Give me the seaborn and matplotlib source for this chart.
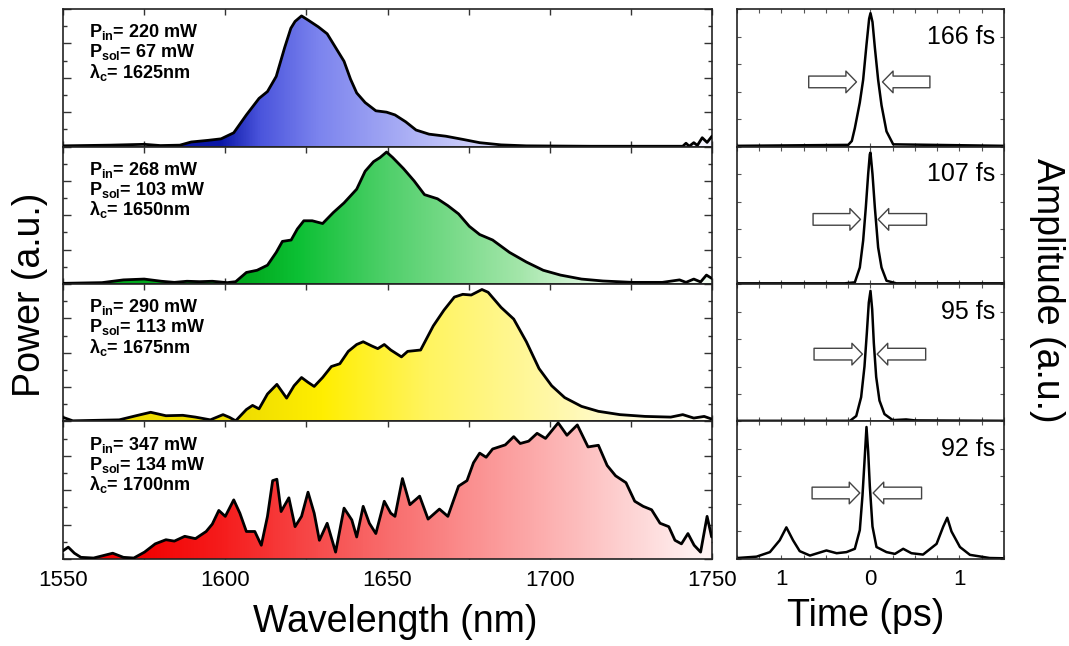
import numpy as np
import matplotlib
matplotlib.use("Agg")
import matplotlib.pyplot as plt
import seaborn as sns
from matplotlib.colors import LinearSegmentedColormap, Normalize
from matplotlib.ticker import MultipleLocator, FixedLocator

# ---- spectra (wavelength nm, normalised power) ----
wl_1625 = [1550, 1564.6, 1575, 1580, 1586, 1589.5, 1594.7, 1598.7, 1602.6, 1606.5,
           1610.4, 1613, 1615.7, 1618.3, 1620.2, 1621.5, 1623.5, 1625.5, 1628.7, 1631.4,
           1634, 1636.6, 1638.6, 1640.5, 1643.1, 1646.4, 1649.7, 1652.3, 1655.6, 1658.8,
           1662.8, 1668, 1673.2, 1678.4, 1685, 1692.8, 1712.5, 1741, 1742, 1743,
           1744.4, 1745.5, 1747, 1748.5, 1750]
pw_1625 = [0.005, 0.01, 0.016, 0.007, 0.01, 0.033, 0.045, 0.056, 0.10, 0.23,
           0.35, 0.40, 0.51, 0.72, 0.86, 0.91, 0.95, 0.92, 0.87, 0.82,
           0.72, 0.62, 0.49, 0.39, 0.32, 0.26, 0.25, 0.23, 0.18, 0.12,
           0.09, 0.075, 0.052, 0.028, 0.012, 0.005, 0.002, 0.002, 0.024, 0.002,
           0.028, 0.008, 0.064, 0.03, 0.075]

wl_1650 = [1550, 1562, 1568.6, 1575, 1580.3, 1584.3, 1588.2, 1592.1, 1596, 1600.6,
           1603.2, 1606.5, 1609.8, 1613, 1615.7, 1617.6, 1620.3, 1622.2, 1624.2, 1626.8,
           1630, 1633.3, 1636.6, 1640.5, 1643.1, 1645.7, 1647.7, 1649.7, 1651.6, 1654.9,
           1658.2, 1661.4, 1665.4, 1668.6, 1671.9, 1675.2, 1678.4, 1682.4, 1687.6, 1692.8,
           1698, 1703.3, 1709.8, 1716.4, 1725.5, 1734.7, 1740, 1742, 1744.4, 1746.5,
           1748.3, 1750]
pw_1650 = [0.005, 0.01, 0.03, 0.036, 0.02, 0.012, 0.02, 0.017, 0.02, 0.01,
           0.017, 0.084, 0.10, 0.137, 0.23, 0.31, 0.32, 0.40, 0.46, 0.46,
           0.44, 0.52, 0.59, 0.69, 0.82, 0.89, 0.92, 0.96, 0.92, 0.84,
           0.75, 0.65, 0.62, 0.57, 0.51, 0.42, 0.36, 0.32, 0.23, 0.16,
           0.10, 0.065, 0.036, 0.022, 0.012, 0.012, 0.03, 0.012, 0.036, 0.015,
           0.065, 0.04]

wl_1675 = [1550, 1553, 1567.3, 1572.5, 1577, 1581.7, 1586.9, 1590.8, 1595.4, 1599.3,
           1601.3, 1603.2, 1606.5, 1608.4, 1610.4, 1613, 1615.9, 1618.9, 1621.2, 1623.5,
           1625.5, 1627.4, 1630, 1632.7, 1635.3, 1637.9, 1640.5, 1642.5, 1645.1, 1647,
           1649, 1651, 1654.3, 1656.2, 1660.2, 1664.1, 1667.4, 1670.6, 1673.2, 1675.8,
           1679.1, 1681, 1685, 1688.9, 1692.8, 1696.7, 1700.6, 1704.6, 1709.8, 1715,
           1721.6, 1729.4, 1737.3, 1741, 1744.4, 1747.6, 1750]
pw_1675 = [0.03, 0.005, 0.012, 0.042, 0.067, 0.042, 0.045, 0.032, 0.012, 0.05,
           0.03, 0.005, 0.087, 0.117, 0.092, 0.20, 0.27, 0.17, 0.26, 0.32,
           0.285, 0.255, 0.32, 0.40, 0.42, 0.51, 0.56, 0.58, 0.55, 0.53,
           0.56, 0.52, 0.47, 0.51, 0.52, 0.695, 0.81, 0.905, 0.925, 0.92,
           0.96, 0.94, 0.83, 0.745, 0.58, 0.385, 0.26, 0.174, 0.11, 0.074,
           0.05, 0.037, 0.032, 0.05, 0.025, 0.037, 0.017]

wl_1700 = [1550, 1551.6, 1553.5, 1555.5, 1559.4, 1565.3, 1568.6, 1571.8, 1575.1, 1578.4,
           1581.7, 1584.3, 1587.5, 1590.8, 1594.1, 1596, 1598, 1600, 1602.6, 1604.5,
           1606.5, 1609.1, 1611.1, 1613, 1614.6, 1615.9, 1617.2, 1619.6, 1621.5, 1623.5,
           1625.5, 1627.4, 1629, 1631.4, 1634, 1636.6, 1639, 1640.5, 1642.5, 1644.4,
           1646.4, 1649, 1651, 1652.3, 1654.6, 1656.9, 1659.9, 1662.5, 1666, 1668.6,
           1671.9, 1674.5, 1676.5, 1678.4, 1680.4, 1682.4, 1686.3, 1688.9, 1690.9, 1693.5,
           1696.1, 1698.7, 1702.6, 1705.3, 1708.5, 1711.8, 1715, 1717.7, 1720.3, 1723.5,
           1726.2, 1728.8, 1731.4, 1734, 1736.7, 1738.6, 1740.6, 1742.6, 1744.5, 1746.5,
           1748.5, 1749.9]
pw_1700 = [0.06, 0.086, 0.042, 0.012, 0.007, 0.042, 0.012, 0.007, 0.05, 0.11,
           0.14, 0.13, 0.165, 0.148, 0.20, 0.254, 0.353, 0.31, 0.43, 0.333,
           0.20, 0.20, 0.10, 0.31, 0.57, 0.58, 0.345, 0.445, 0.235, 0.31,
           0.486, 0.333, 0.136, 0.26, 0.05, 0.37, 0.284, 0.16, 0.383, 0.26,
           0.185, 0.42, 0.333, 0.31, 0.585, 0.395, 0.457, 0.29, 0.363, 0.31,
           0.53, 0.57, 0.70, 0.77, 0.74, 0.80, 0.83, 0.89, 0.84, 0.857,
           0.914, 0.877, 0.99, 0.90, 0.975, 0.815, 0.827, 0.68, 0.605, 0.555,
           0.42, 0.383, 0.358, 0.26, 0.235, 0.136, 0.11, 0.185, 0.10, 0.05,
           0.31, 0.16]

# ---- autocorrelation traces (delay ps, amplitude) ----
t_166 = [-1.5, -0.25, -0.21, -0.176, -0.12, -0.0825, -0.045, -0.015, 0.0, 0.0225,
         0.049, 0.086, 0.124, 0.18, 0.255, 1.5]
amp_166 = [0.005, 0.012, 0.04, 0.133, 0.32, 0.485, 0.74, 0.93, 0.97, 0.906,
           0.72, 0.485, 0.30, 0.11, 0.016, 0.005]

t_107 = [-1.5, -0.29, -0.176, -0.12, -0.0825, -0.0525, -0.026, -0.0075, 0.0, 0.0225,
         0.049, 0.086, 0.124, 0.18, 0.29, 1.5]
amp_107 = [0.005, 0.005, 0.012, 0.12, 0.315, 0.557, 0.80, 0.944, 0.956, 0.80,
           0.557, 0.266, 0.12, 0.024, 0.005, 0.005]

t_95 = [-1.5, -0.23, -0.16, -0.105, -0.0675, -0.041, -0.019, 0.0, 0.019, 0.0375,
        0.064, 0.101, 0.157, 0.25, 0.4, 0.5, 1.5]
amp_95 = [0.005, 0.005, 0.04, 0.177, 0.40, 0.644, 0.865, 0.95, 0.816, 0.57,
          0.324, 0.152, 0.054, 0.01, 0.015, 0.008, 0.005]

t_92 = [-1.5, -1.28, -1.13, -1.02, -0.945, -0.87, -0.795, -0.68, -0.495, -0.38,
        -0.27, -0.176, -0.12, -0.09, -0.0675, -0.045, -0.026, -0.0075, 0.0225, 0.0675,
        0.18, 0.274, 0.3675, 0.46, 0.59, 0.7425, 0.8175, 0.8625, 0.91, 1.005,
        1.1175, 1.34, 1.5]
amp_92 = [0.007, 0.017, 0.05, 0.136, 0.23, 0.136, 0.057, 0.025, 0.062, 0.042,
          0.05, 0.074, 0.21, 0.46, 0.707, 0.96, 0.78, 0.53, 0.236, 0.087,
          0.05, 0.037, 0.074, 0.042, 0.032, 0.11, 0.236, 0.30, 0.20, 0.087,
          0.03, 0.007, 0.005]

p_in = [220, 268, 290, 347]
p_sol = [67, 103, 113, 134]
lam_c = [1625, 1650, 1675, 1700]
pulse_labels = ["166 fs", "107 fs", "95 fs", "92 fs"]
wl_ticks = [1550, 1600, 1650, 1700, 1750]
t_ticks = [-1, 0, 1]
t_ticklabels = ["1", "0", "1"]

spectra = [(wl_1625, pw_1625), (wl_1650, pw_1650), (wl_1675, pw_1675), (wl_1700, pw_1700)]
traces = [(t_166, amp_166), (t_107, amp_107), (t_95, amp_95), (t_92, amp_92)]

# gradient colour stops (position 0..1 across grad_span) per panel
grad_colors = [
    [(0.0, "#0a16a6"), (0.12, "#4a54dc"), (0.3, "#7c84ee"), (0.6, "#b0b4f6"), (1.0, "#f4f4ff")],
    [(0.0, "#00a81c"), (0.15, "#0cc034"), (0.4, "#52d06c"), (0.75, "#a4e6aa"), (1.0, "#f0fbf0")],
    [(0.0, "#eedc00"), (0.2, "#ffee00"), (0.45, "#fff460"), (0.75, "#fff8aa"), (1.0, "#fffdf0")],
    [(0.0, "#f20000"), (0.15, "#f51c1c"), (0.4, "#f86262"), (0.7, "#fcaaaa"), (1.0, "#fff4f4")],
]
grad_span = [(1598, 1700), (1605, 1720), (1603, 1735), (1572, 1748)]
fill_start = [1585, 1562, 1565, 1557]

sns.set_theme(style="ticks")
plt.rcParams["font.family"] = ["Liberation Sans", "DejaVu Sans"]
plt.rcParams["text.color"] = "black"
plt.rcParams["xtick.color"] = "black"
plt.rcParams["ytick.color"] = "black"
plt.rcParams["mathtext.fontset"] = "custom"
plt.rcParams["mathtext.rm"] = "Liberation Sans:bold"
plt.rcParams["mathtext.bf"] = "Liberation Sans:bold"
plt.rcParams["mathtext.default"] = "bf"

fig = plt.figure(figsize=(10.69, 6.46), dpi=100)
top, bottom = 0.986, 0.1347
h = (top - bottom) / 4

for i in range(4):
    y0 = top - (i + 1) * h
    axl = fig.add_axes([0.059, y0, 0.607, h])
    axr = fig.add_axes([0.6894, y0, 0.2498, h])

    # ---- spectrum with horizontal colour gradient ----
    wl, pw = spectra[i]
    fill = axl.fill_between(wl, pw, 0, color="none", lw=0)
    cmap = LinearSegmentedColormap.from_list("g%d" % i, grad_colors[i])
    grad = np.linspace(fill_start[i], 1750, 600)[None, :]
    im = axl.imshow(grad, extent=[fill_start[i], 1750, 0, 1], aspect="auto", origin="lower",
                    cmap=cmap, norm=Normalize(*grad_span[i]), zorder=1)
    im.set_clip_path(fill.get_paths()[0], transform=axl.transData)
    sns.lineplot(x=wl, y=pw, ax=axl, color="black", lw=2.0, estimator=None, zorder=3)
    axl.set_xlim(1550, 1750)
    axl.set_ylim(0, 1)
    axl.set_xlabel("")
    axl.set_ylabel("")
    axl.xaxis.set_major_locator(FixedLocator(wl_ticks))
    axl.xaxis.set_minor_locator(MultipleLocator(25))
    axl.yaxis.set_major_locator(MultipleLocator(0.25))
    axl.yaxis.set_minor_locator(MultipleLocator(0.125))
    axl.tick_params(which="both", direction="in", top=True, right=True, labelleft=False,
                    color="#333333", width=1)
    axl.tick_params(which="major", length=6)
    axl.tick_params(which="minor", length=3)
    axl.tick_params(axis="x", which="both", length=4)
    if i < 3:
        axl.tick_params(labelbottom=False)
    else:
        axl.tick_params(axis="x", labelsize=16, pad=8)

    lines = [r"P$_{in}$= %d mW" % p_in[i],
             r"P$_{sol}$= %d mW" % p_sol[i],
             r"λ$_{c}$= %dnm" % lam_c[i]]
    for k, txt in enumerate(lines):
        axl.text(1558, 0.83 - 0.145 * k, txt, fontsize=13, fontweight="bold",
                 ha="left", va="center", zorder=4)

    # ---- autocorrelation ----
    t, amp = traces[i]
    sns.lineplot(x=t, y=amp, ax=axr, color="black", lw=1.8, estimator=None)
    axr.set_xlim(-1.5, 1.5)
    axr.set_ylim(0, 1)
    axr.set_xlabel("")
    axr.set_ylabel("")
    axr.xaxis.set_major_locator(FixedLocator(t_ticks))
    axr.xaxis.set_minor_locator(MultipleLocator(0.25))
    axr.yaxis.set_major_locator(MultipleLocator(0.2))
    axr.tick_params(which="both", direction="in", top=True, right=True, labelleft=False,
                    color="#555555", width=0.8, length=3)
    if i < 3:
        axr.tick_params(labelbottom=False)
    else:
        axr.set_xticklabels(t_ticklabels)
        axr.tick_params(axis="x", labelsize=16, pad=7)
    axr.text(1.4, 0.80, pulse_labels[i], fontsize=18, ha="right", va="center")

    arrows = [(-0.694, -0.1575, 0.135, 0.6675, 0.47),
              (-0.645, -0.1125, 0.086, 0.63, 0.47),
              (-0.634, -0.09, 0.075, 0.62, 0.49),
              (-0.656, -0.12, 0.03, 0.574, 0.48)][i]
    style = "simple,head_length=0.38,head_width=0.78,tail_width=0.42"
    for tail, tip in [(arrows[0], arrows[1]), (arrows[3], arrows[2])]:
        axr.annotate("", xy=(tip, arrows[4]), xytext=(tail, arrows[4]),
                     arrowprops=dict(arrowstyle=style, fc="white", ec="#444444", lw=1.0,
                                     mutation_scale=20, shrinkA=0, shrinkB=0))

    for ax in (axl, axr):
        for sp in ax.spines.values():
            sp.set_visible(True)
            sp.set_color("#222222")
            sp.set_linewidth(1.2)

fig.text(0.028, 0.543, "Power (a.u.)", rotation=90, fontsize=27, ha="center", va="center")
fig.text(0.37, 0.037, "Wavelength (nm)", fontsize=27, ha="center", va="center")
fig.text(0.81, 0.047, "Time (ps)", fontsize=27, ha="center", va="center")
fig.text(0.979, 0.55, "Amplitude (a.u.)", rotation=-90, fontsize=27, ha="center", va="center")

fig.savefig("out.png", dpi=100)
